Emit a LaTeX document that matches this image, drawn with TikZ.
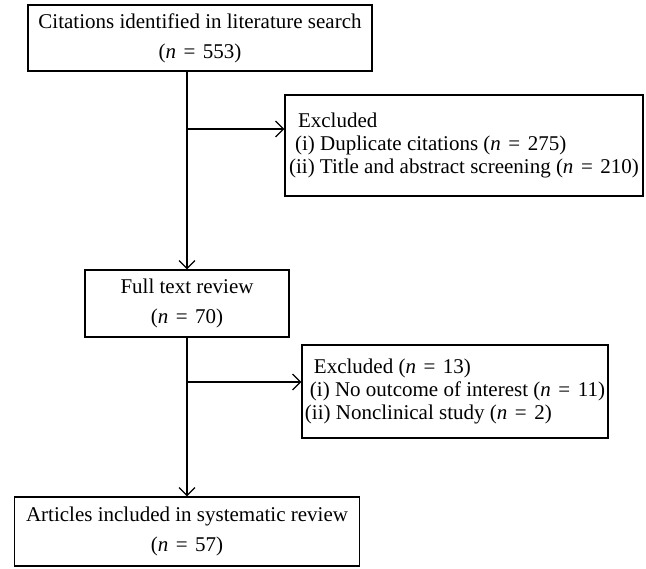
\documentclass[tikz,border=0pt]{standalone}
\usepackage{fontspec}
\setmainfont{Liberation Serif}
\usetikzlibrary{arrows.meta}

\newcommand{\ncount}[1]{(\textit{n}\hspace{0.36em}=\hspace{0.36em}#1)}

\tikzset{
 stagebox/.style={draw, line width=0.6pt, inner sep=0pt, align=center, font=\fontsize{10.5}{15}\selectfont},
 exclbox/.style={draw, line width=0.6pt, inner sep=0pt, align=left, font=\fontsize{10.5}{11.5}\selectfont},
 flow/.style={line width=0.6pt, -{Straight Barb[length=4pt,width=8pt]}}
}

\begin{document}
\begin{tikzpicture}[x=0.5pt,y=-0.5pt]
 \useasboundingbox (0,0) rectangle (646,568);

 % Records found by the search
 \node [stagebox, minimum width=172pt, minimum height=33pt] (cite) at (200,38)
  {Citations identified in literature search\\\ncount{553}};

 % First exclusion step
 \node [exclbox, minimum width=179pt, minimum height=50.5pt] (excl1) at (464,145.5)
  {\hspace{4.5pt}Excluded\\\hspace{3pt}(i) Duplicate citations \ncount{275}\\(ii) Title and abstract screening \ncount{210}};

 % Full text stage
 \node [stagebox, minimum width=102pt, minimum height=33.5pt] (full) at (187,303.5)
  {Full text review\\\ncount{70}};

 % Second exclusion step
 \node [exclbox, minimum width=153pt, minimum height=46.5pt] (excl2) at (455,391.5)
  {\hspace{4.5pt}Excluded \ncount{13}\\\hspace{2.5pt}(i) No outcome of interest \ncount{11}\\(ii) Nonclinical study \ncount{2}};

 % Final set of articles
 \node [stagebox, minimum width=172.5pt, minimum height=34.5pt] (incl) at (187,531.5)
  {Articles included in systematic review\\\ncount{57}};

 % Branch points on the main line
 \coordinate (split1) at (full.north |- 0,129);
 \coordinate (split2) at (full.south |- 0,382);

 % Main line and the two side arrows
 \draw [flow] (cite.south -| full.north) -- (full.north);
 \draw [flow] (split1) -- (split1 -| excl1.west);
 \draw [flow] (full.south) -- (incl.north);
 \draw [flow] (split2) -- (split2 -| excl2.west);

\end{tikzpicture}
\end{document}
